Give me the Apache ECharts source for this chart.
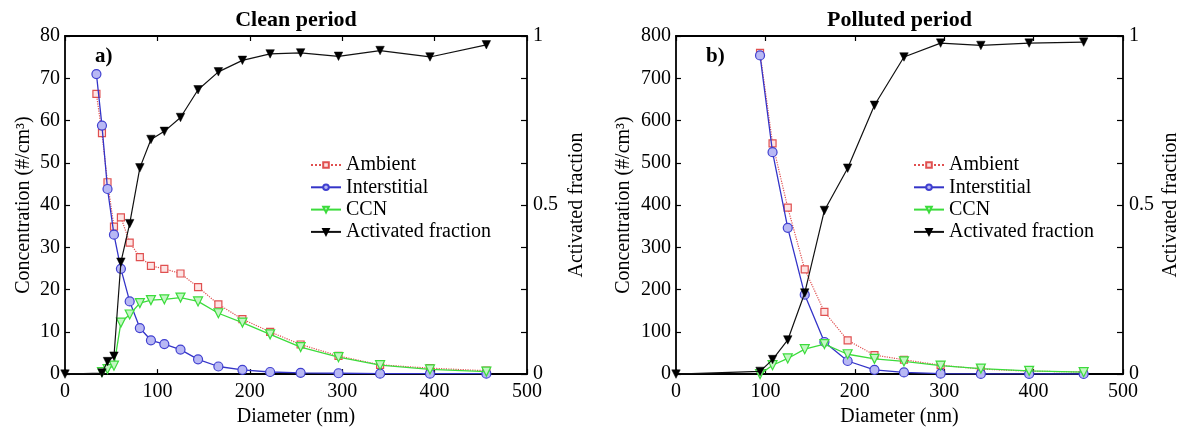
<!DOCTYPE html>
<html><head><meta charset="utf-8">
<script src="https://cdn.jsdelivr.net/npm/echarts@6/dist/echarts.min.js"></script>
<style>html,body{margin:0;padding:0;background:#fff}#c{width:1186px;height:432px}</style>
</head><body><div id="c"></div>
<script>
// ---- Clean period (panel a) ----
const cleanDiam = [34, 40, 46, 53, 60.5, 70, 81, 93, 107.5, 125, 144, 166, 192, 222, 255, 296, 341, 395, 456];
const cleanAmbient = [66.3, 57, 45.4, 34.9, 37.1, 31.1, 27.7, 25.6, 24.9, 23.8, 20.6, 16.5, 13.0, 10.0, 7.0, 4.3, 2.2, 1.4, 0.8];
const cleanInterstitial = [71, 58.8, 43.8, 33.0, 24.9, 17.2, 10.9, 8.0, 7.1, 5.8, 3.5, 1.8, 1.0, 0.5, 0.3, 0.2, 0.1, 0.1, 0.1];
const cleanCCN = [null, 0.5, 1.2, 2.0, 12.2, 14.1, 16.8, 17.5, 17.7, 18.1, 17.2, 14.4, 12.2, 9.4, 6.4, 4.0, 2.1, 1.1, 0.6];
const cleanFrac = [null, 0.003, 0.037, 0.053, 0.331, 0.445, 0.61, 0.694, 0.718, 0.759, 0.841, 0.894, 0.928, 0.947, 0.950, 0.940, 0.957, 0.938, 0.974];
// ---- Polluted period (panel b) ----
const pollDiam = [94, 108, 125, 144, 166, 192, 222, 255, 296, 341, 395, 456];
const pollAmbient = [760, 546, 394, 248, 147, 80, 45, 34, 21, 12, 7, 5];
const pollInterstitial = [754, 525, 346, 188, 76, 31, 10, 4, 1, 0.5, 0.3, 0.2];
const pollCCN = [0, 21, 37, 59, 71, 47, 36, 30, 20, 13, 7.7, 4.6];
const pollFrac = [0.008, 0.043, 0.101, 0.240, 0.484, 0.609, 0.795, 0.938, 0.979, 0.972, 0.979, 0.982];
// origin point of activated fraction curves
const fracOrigin = [0, 0];
const xTicks = [0, 100, 200, 300, 400, 500];
const fracLabels = {0: '0', 0.5: '0.5', 1: '1'};
const titles = ['Clean period', 'Polluted period'];
const panelLabels = ['a)', 'b)'];
const names = ['Ambient', 'Interstitial', 'CCN', 'Activated fraction'];

const FONT = 'Liberation Serif';
function pairs(xs, ys) {
  const out = [];
  xs.forEach((x, i) => { if (ys[i] !== null && ys[i] !== undefined) out.push([x, ys[i]]); });
  return out;
}
const grids = [
  {left: 65, top: 36, width: 462, height: 345},
  {left: 676, top: 36, width: 447, height: 345}
];
const axisLine = {show: true, onZero: false, lineStyle: {color: '#000', width: 1.8}};
const labelStyle = {color: '#000', fontFamily: FONT, fontSize: 20};
const nameStyle = {color: '#000', fontFamily: FONT, fontSize: 20};

function xAxes(gi) {
  return [
    {gridIndex: gi, type: 'value', min: xTicks[0], max: xTicks[xTicks.length - 1], interval: 100, position: 'bottom',
     axisLine, axisTick: {inside: true, length: 5, lineStyle: {color: '#000', width: 1.2}},
     axisLabel: Object.assign({margin: 8}, labelStyle), splitLine: {show: false},
     name: 'Diameter (nm)', nameLocation: 'middle', nameGap: 30, nameTextStyle: nameStyle},
    {gridIndex: gi, type: 'value', min: xTicks[0], max: xTicks[xTicks.length - 1], interval: 100, position: 'top',
     axisLine, axisTick: {inside: true, length: 5, lineStyle: {color: '#000', width: 1.2}},
     axisLabel: {show: false}, splitLine: {show: false}}
  ];
}
function yAxes(gi, max, interval, nameGapL, nameGapR) {
  return [
    {gridIndex: gi, type: 'value', min: 0, max, interval, position: 'left',
     axisLine, axisTick: {inside: true, length: 5, lineStyle: {color: '#000', width: 1.2}},
     axisLabel: Object.assign({margin: 5}, labelStyle), splitLine: {show: false},
     name: 'Concentration (#/cm³)', nameLocation: 'middle', nameGap: nameGapL, nameTextStyle: nameStyle},
    {gridIndex: gi, type: 'value', min: 0, max: 1, interval: 0.125, position: 'right',
     axisLine, axisTick: {inside: true, length: 6, lineStyle: {color: '#000', width: 1.2}},
     axisLabel: Object.assign({margin: 6, formatter: v => (fracLabels[v] !== undefined ? fracLabels[v] : '')}, labelStyle),
     splitLine: {show: false},
     name: 'Activated fraction', nameLocation: 'middle', nameGap: nameGapR, nameTextStyle: nameStyle}
  ];
}
function seriesFor(gi, diam, amb, inter, ccn, frac) {
  const xi = gi * 2, yi = gi * 2;
  return [
    {name: names[0], type: 'line', xAxisIndex: xi, yAxisIndex: yi, data: pairs(diam, amb),
     symbol: 'rect', symbolSize: 7, lineStyle: {color: '#e05050', width: 1.2, type: 'dotted'},
     itemStyle: {color: '#fde4e4', borderColor: '#e05050', borderWidth: 1.2}, color: '#e05050', z: 2},
    {name: names[1], type: 'line', xAxisIndex: xi, yAxisIndex: yi, data: pairs(diam, inter),
     symbol: 'circle', symbolSize: 9, lineStyle: {color: '#3434c8', width: 1.3},
     itemStyle: {color: '#b8b8f4', borderColor: '#4040d0', borderWidth: 1.2}, color: '#3434c8', z: 3},
    {name: names[2], type: 'line', xAxisIndex: xi, yAxisIndex: yi, data: pairs(diam, ccn),
     symbol: 'triangle', symbolRotate: 180, symbolSize: 9, lineStyle: {color: '#3cdc3c', width: 1.3},
     itemStyle: {color: '#c4f6c4', borderColor: '#3cdc3c', borderWidth: 1.2}, color: '#3cdc3c', z: 4},
    {name: names[3], type: 'line', xAxisIndex: xi, yAxisIndex: yi + 1, data: [fracOrigin].concat(pairs(diam, frac)),
     symbol: 'triangle', symbolRotate: 180, symbolSize: 8.5, lineStyle: {color: '#111', width: 1.2},
     itemStyle: {color: '#000', borderColor: '#000', borderWidth: 0.5}, color: '#000', z: 5}
  ];
}
function legendFor(left) {
  return {left, top: 155, padding: 0, orient: 'vertical', data: names, itemWidth: 30, itemHeight: 7, itemGap: 2.3,
    selectedMode: false, textStyle: {color: '#000', fontFamily: FONT, fontSize: 20, lineHeight: 20}};
}
const graphics = [];
grids.forEach((g, i) => {
  graphics.push({type: 'text', x: g.left + g.width / 2, y: 20,
    style: {text: titles[i], fill: '#000', font: 'bold 22px "' + FONT + '"', textAlign: 'center', textVerticalAlign: 'middle'}});
  graphics.push({type: 'text', x: g.left + 30, y: 57,
    style: {text: panelLabels[i], fill: '#000', font: 'bold 21px "' + FONT + '"', textAlign: 'left', textVerticalAlign: 'middle'}});
});

const chart = echarts.init(document.getElementById('c'), null, {renderer: 'canvas'});
chart.setOption({
  animation: false,
  backgroundColor: '#fff',
  grid: grids,
  xAxis: xAxes(0).concat(xAxes(1)),
  yAxis: yAxes(0, 80, 10, 31, 40).concat(yAxes(1, 800, 100, 42, 38)),
  legend: [legendFor(310), legendFor(913)],
  series: seriesFor(0, cleanDiam, cleanAmbient, cleanInterstitial, cleanCCN, cleanFrac)
    .concat(seriesFor(1, pollDiam, pollAmbient, pollInterstitial, pollCCN, pollFrac)),
  graphic: graphics
});
</script></body></html>
